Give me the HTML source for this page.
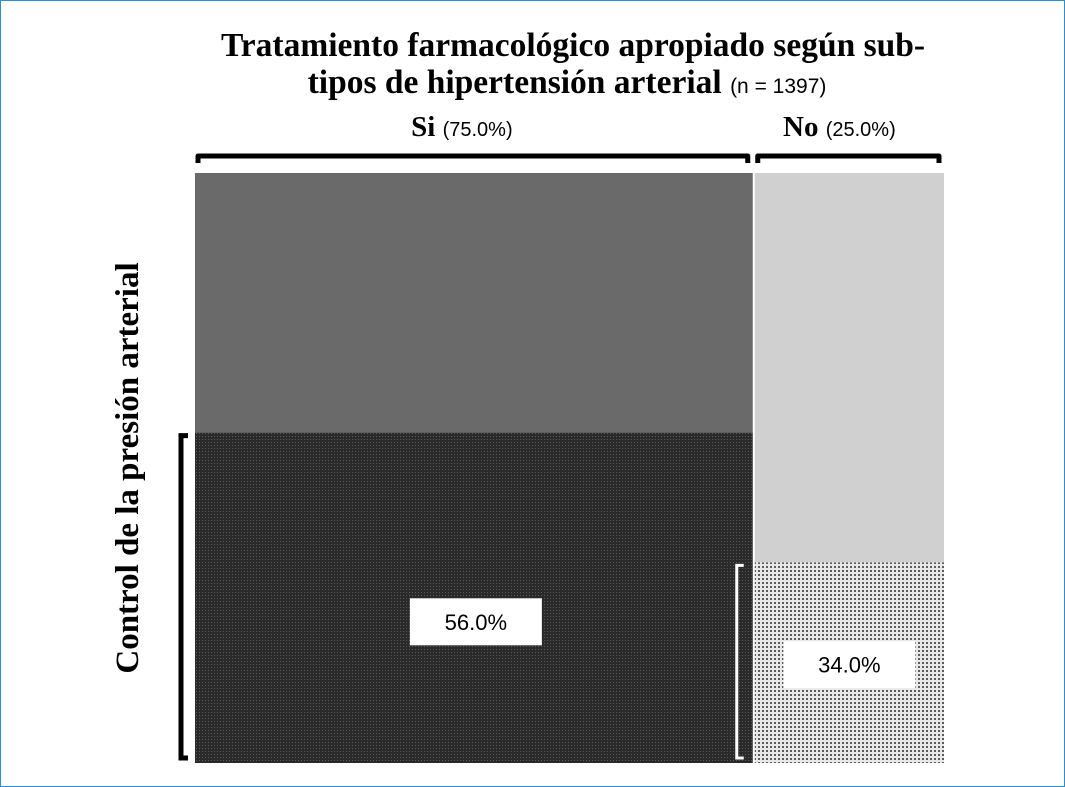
<!DOCTYPE html>
<html><head><meta charset="utf-8">
<style>
html,body{margin:0;padding:0;background:#fff}
#wrap{width:1063px;height:785px;border:1px solid #2a8fd0;position:relative;overflow:hidden;background:#fff}
svg{position:absolute;left:0;top:0}
</style></head>
<body>
<div id="wrap">
<svg id="chart" width="1065" height="787">
<defs>
<pattern id="pDark" width="3" height="3" patternUnits="userSpaceOnUse"><rect width="3" height="3" fill="#2a2a2a"/><rect width="1" height="1" fill="#5a5a5a"/></pattern>
<pattern id="pDot" width="4" height="4" patternUnits="userSpaceOnUse"><rect width="4" height="4" fill="#e8e8e8"/><rect x="1" y="1" width="2" height="2" fill="#5c5c5c"/></pattern>
</defs>
<text x="572" y="55" text-anchor="middle" font-family="Liberation Serif,serif" font-weight="bold" font-size="33.5">Tratamiento farmacológico apropiado según sub-</text>
<text x="566" y="92" text-anchor="middle" font-family="Liberation Serif,serif" font-weight="bold" font-size="33.5">tipos de hipertensión arterial <tspan font-family="Liberation Sans,sans-serif" font-weight="normal" font-size="21">(n = 1397)</tspan></text>
<text x="137" y="467" text-anchor="middle" transform="rotate(-90 137 467)" font-family="Liberation Serif,serif" font-weight="bold" font-size="33">Control de la presión arterial</text>
<g id="marks"></g>
</svg>
</div>
<script>
const groups = ["Si", "No"];
const groupShare = [75.0, 25.0];
const controlled = [56.0, 34.0];
const labels = ["56.0%", "34.0%"];

const X0 = 194, X1 = 943, Y0 = 172, Y1 = 762, GAP = 5;
const xs = v => X0 + (X1 - X0) * v / 100;
const ys = v => Y1 - (Y1 - Y0) * v / 100;
const NS = "http://www.w3.org/2000/svg";
const g = document.getElementById('marks');
function mk(tag, attrs, parent) {
  const e = document.createElementNS(NS, tag);
  for (const k in attrs) e.setAttribute(k, attrs[k]);
  (parent || g).appendChild(e);
  return e;
}
const topFill = ["#6a6a6a", "#d0d0d0"];
const botFill = ["url(#pDark)", "url(#pDot)"];
let cum = 0;
groups.forEach((name, i) => {
  const a = xs(cum) + (i ? -2 : 0);
  const b = xs(cum + groupShare[i]) - (i ? 0 : GAP - 1);
  cum += groupShare[i];
  const yc = ys(controlled[i]);
  const r1 = mk('rect', {x: a, y: Y0, width: b - a, height: yc - Y0, fill: topFill[i]});
  
  
  const r2 = mk('rect', {x: a, y: yc, width: b - a, height: Y1 - yc, fill: botFill[i]});
  
  
  const br = mk('path', {d: `M${a + 3} 162 V155 H${b - 5} V162`, fill: 'none', stroke: '#000', 'stroke-width': 5, 'stroke-linejoin': 'round'});
  
  
  const t = mk('text', {x: (a + b) / 2 - (i ? 10 : 12), y: 135, 'text-anchor': 'middle', 'font-family': 'Liberation Serif,serif', 'font-weight': 'bold', 'font-size': 29});
  t.textContent = name + ' ';
  const ts = mk('tspan', {'font-family': 'Liberation Sans,sans-serif', 'font-weight': 'normal', 'font-size': 20}, t);
  ts.textContent = '(' + groupShare[i].toFixed(1) + '%)';
  
  
  const bx = i ? a - 18 : a - 14;
  const col = i ? '#fff' : '#000';
  const sb = mk('path', {d: `M${bx + 7} ${yc + 3} H${bx} V${Y1 - 5} H${bx + 7}`, fill: 'none', stroke: col, 'stroke-width': i ? 3 : 5});
  
  
  const cx = i ? (a + b) / 2 + 0 : (a + b) / 2 + 2;
  const cy = (yc + Y1) / 2 + (i ? 2 : 24);
  const bw = 132, bh = 47;
  const lb = mk('rect', {x: cx - bw / 2, y: cy - bh / 2, width: bw, height: bh, fill: '#fff'});
  
  
  const lt = mk('text', {x: cx, y: cy + 8, 'text-anchor': 'middle', 'font-family': 'Liberation Sans,sans-serif', 'font-size': 22});
  lt.textContent = labels[i];
  
  
});
</script>
</body></html>
